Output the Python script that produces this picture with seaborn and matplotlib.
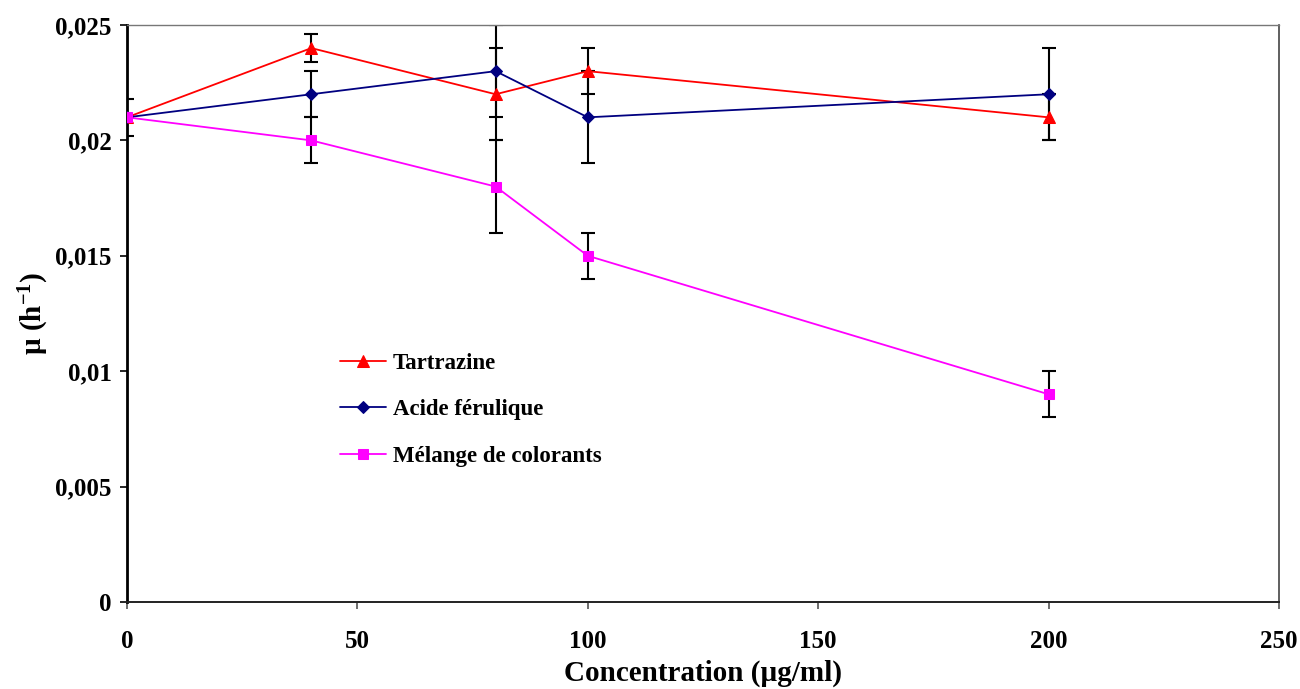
import numpy as np
import pandas as pd
import matplotlib
matplotlib.use("Agg")
import matplotlib.pyplot as plt
import seaborn as sns
from matplotlib.ticker import FuncFormatter

# data
concentration = [0, 40, 80, 100, 200]
tartrazine = [0.021, 0.024, 0.022, 0.023, 0.021]
tartrazine_err = [0.0008, 0.0006, 0.002, 0.001, 0.001]
acide = [0.021, 0.022, 0.023, 0.021, 0.022]
acide_err = [0.0, 0.001, 0.002, 0.002, 0.002]
melange = [0.021, 0.020, 0.018, 0.015, 0.009]
melange_err = [0.0, 0.001, 0.002, 0.001, 0.001]

series = [
    ("Tartrazine", tartrazine, tartrazine_err, "#ff0000", "^", 9),
    ("Acide férulique", acide, acide_err, "#000080", "D", 6.5),
    ("Mélange de colorants", melange, melange_err, "#ff00ff", "s", 7.5),
]

sns.set_style("white")
plt.rcParams['font.family'] = ['Liberation Serif', 'DejaVu Serif']
plt.rcParams['mathtext.fontset'] = 'custom'
plt.rcParams['mathtext.rm'] = 'Liberation Serif:bold'
plt.rcParams['mathtext.it'] = 'Liberation Serif:bold'
plt.rcParams['text.color'] = 'black'
plt.rcParams['axes.labelcolor'] = 'black'
plt.rcParams['xtick.labelcolor'] = 'black'
plt.rcParams['ytick.labelcolor'] = 'black'

fig = plt.figure(figsize=(13, 6.89), dpi=100)
ax = fig.add_axes([0.0977, 0.1263, 0.8861, 0.8374])

for name, vals, errs, col, mk, ms in series:
    df = pd.DataFrame({"x": concentration, "y": vals})
    ax.errorbar(concentration, vals, yerr=errs, fmt='none', ecolor='black',
                elinewidth=1.5, capsize=5, capthick=1.5, zorder=2)
    sns.lineplot(data=df, x="x", y="y", ax=ax, color=col, marker=mk,
                 markersize=ms, markeredgecolor=col, linewidth=1.3,
                 label=name, zorder=3)

ax.set_xlim(0, 250)
ax.set_ylim(0, 0.025)
ax.set_xticks([0, 50, 100, 150, 200, 250])
ax.set_yticks([0, 0.005, 0.01, 0.015, 0.02, 0.025])
ax.yaxis.set_major_formatter(FuncFormatter(lambda v, p: f"{v:g}".replace('.', ',')))
ax.tick_params(axis='both', direction='out', length=5, width=1.2,
               labelsize=18, left=True, bottom=True)
ax.tick_params(axis='x', pad=15, color='#555555')
ax.tick_params(axis='y', pad=6, color='black')
for lab in ax.get_xticklabels() + ax.get_yticklabels():
    lab.set_fontweight('bold')

ax.spines['left'].set_color('black')
ax.spines['left'].set_linewidth(2)
ax.spines['bottom'].set_color('#222222')
ax.spines['bottom'].set_linewidth(1.4)
ax.spines['top'].set_color('#777777')
ax.spines['top'].set_linewidth(1)
ax.spines['right'].set_color('#444444')
ax.spines['right'].set_linewidth(1.2)

ax.set_xlabel("Concentration (µg/ml)", fontsize=21, fontweight='bold', labelpad=5)
ax.set_ylabel("µ (h$^{-1}$)", fontsize=21, fontweight='bold', labelpad=3)

leg = ax.legend(loc='center left', bbox_to_anchor=(0.167, 0.333), frameon=False,
                prop={'weight': 'bold', 'size': 16.5}, labelspacing=1.1,
                handlelength=2.0, handletextpad=0.3)

fig.savefig("out.png", dpi=100)
